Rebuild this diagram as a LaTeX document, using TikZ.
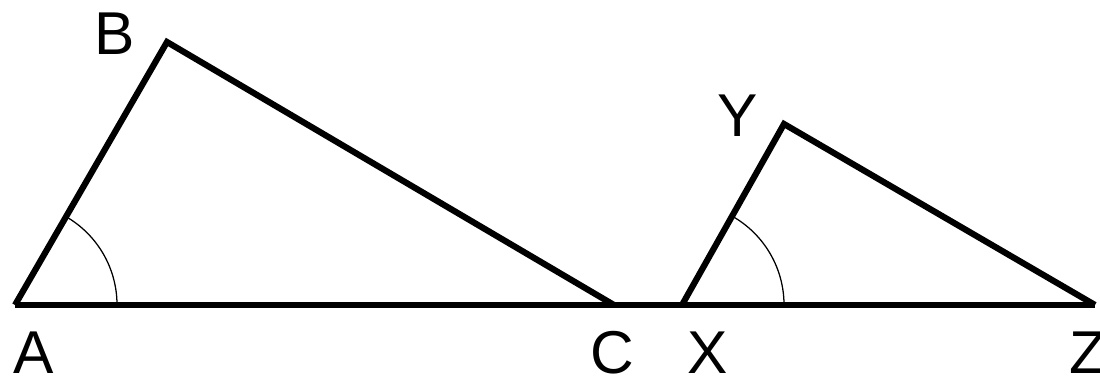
\documentclass[tikz,border=0pt]{standalone}
\usepackage{fontspec}
\setmainfont{Liberation Sans}
\usetikzlibrary{angles}

\begin{document}
\begin{tikzpicture}[x=0.025cm, y=0.025cm, line join=miter]
        \useasboundingbox (0,0) rectangle (1100,381);
        \clip (0,0) rectangle (1100,381);
        \tikzset{side/.style={line width=4.4pt, black},
                 corner/.style={font=\fontsize{43}{50}\selectfont, inner sep=0pt, anchor=base}}

        % FIRST TRIANGLE
        \coordinate (A) at (15, 76);
        \coordinate (B) at (167, 339);
        \coordinate (C) at (614, 76);

        % SECOND TRIANGLE
        \coordinate (X) at (682, 76);
        \coordinate (Y) at (784, 257);
        \coordinate (Z) at (1095, 76);

        % Sides
        \draw[side] (A) -- (Z);
        \draw[side] (A) -- (B) -- (C);
        \draw[side] (X) -- (Y) -- (Z);

        % Angle marks
        \pic[draw, line width=0.9pt, angle radius=2.55cm] {angle=C--A--B};
        \pic[draw, line width=0.9pt, angle radius=2.55cm] {angle=Z--X--Y};

        % Labels
        \node[corner] (labA) at (34, 7) {A};
        \node[corner] (labB) at (115, 326) {B};
        \node[corner] (labC) at (612, 7) {C};
        \node[corner] (labX) at (708, 7) {X};
        \node[corner] (labY) at (738, 244) {Y};
        \node[corner] (labZ) at (1088, 7) {Z};
    \end{tikzpicture}
\end{document}
